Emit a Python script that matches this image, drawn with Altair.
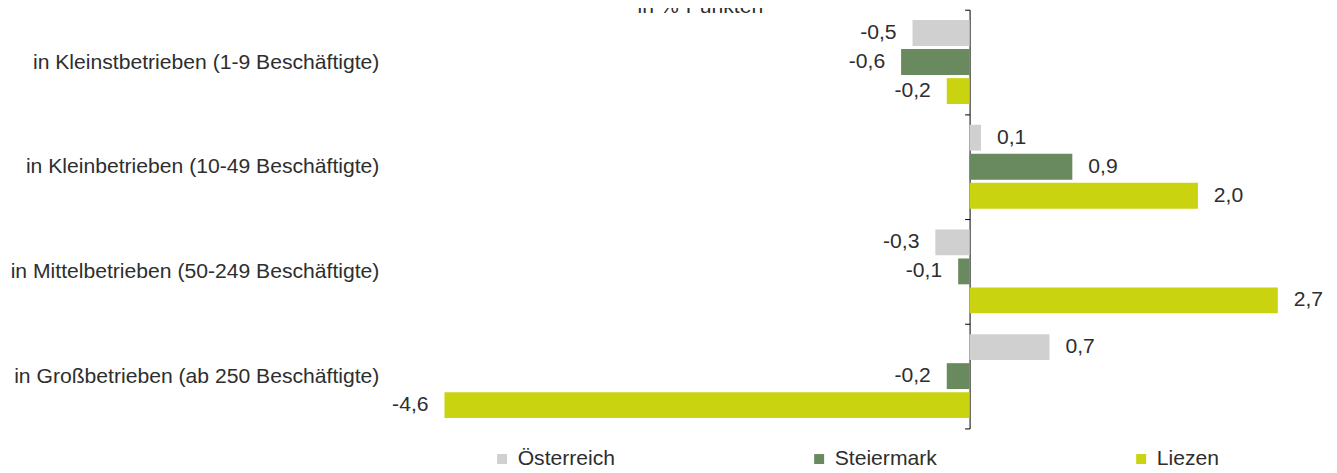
import altair as alt
import pandas as pd

categories = [
    "in Kleinstbetrieben (1-9 Beschäftigte)",
    "in Kleinbetrieben (10-49 Beschäftigte)",
    "in Mittelbetrieben (50-249 Beschäftigte)",
    "in Großbetrieben (ab 250 Beschäftigte)",
]
series = ["Österreich", "Steiermark", "Liezen"]
oesterreich = [-0.5, 0.1, -0.3, 0.7]
steiermark = [-0.6, 0.9, -0.1, -0.2]
liezen = [-0.2, 2.0, 2.7, -4.6]
colors = ["#d0d0d0", "#688a5e", "#c9d30f"]
axis_title = "in %-Punkten"

rows = []
for s, vals in zip(series, [oesterreich, steiermark, liezen]):
    for c, v in zip(categories, vals):
        rows.append({"cat": c, "series": s, "value": v,
                     "label": f"{v:.1f}".replace(".", ",")})
df = pd.DataFrame(rows)

FONT = "Liberation Sans"
FS = 21.2
TXT = "#2e2e2e"
W, H = 916, 420
X_DOMAIN = [-5, 3]
zero_px = W * (0 - X_DOMAIN[0]) / (X_DOMAIN[1] - X_DOMAIN[0])

y_axis = alt.Axis(
    orient="left", offset=-zero_px, domain=True, domainColor="#000000",
    ticks=True, tickBand="extent", tickSize=5, tickColor="#000000",
    labelPadding=zero_px + 17 - 5 + 3, labelFont=FONT, labelFontSize=FS,
    labelColor=TXT, labelLimit=600, grid=False, title=None,
)
y_enc = alt.Y("cat:N", sort=categories, title=None,
              scale=alt.Scale(paddingInner=0, paddingOuter=0), axis=y_axis)
yoff_enc = alt.YOffset("series:N", sort=series,
                       scale=alt.Scale(paddingInner=0.11, paddingOuter=0.358))
x_enc = alt.X("value:Q", axis=None,
              scale=alt.Scale(domain=X_DOMAIN, nice=False, zero=True))

base = alt.Chart(df)

bars = base.mark_bar().encode(
    x=x_enc, y=y_enc, yOffset=yoff_enc,
    color=alt.Color(
        "series:N", sort=series,
        scale=alt.Scale(domain=series, range=colors),
        legend=alt.Legend(
            orient="none", legendX=93, legendY=440, direction="horizontal",
            title=None, symbolType="square", symbolSize=100,
            symbolStrokeWidth=0, labelFont=FONT, labelFontSize=FS,
            labelColor=TXT, columnPadding=194, labelOffset=5, padding=0,
            gridAlign="each",
        ),
    ),
)

pos_text = base.transform_filter("datum.value >= 0").mark_text(
    align="left", baseline="middle", dx=16, font=FONT, fontSize=FS, color=TXT
).encode(x=x_enc, y=y_enc, yOffset=yoff_enc, text="label:N")

neg_text = base.transform_filter("datum.value < 0").mark_text(
    align="right", baseline="middle", dx=-16, font=FONT, fontSize=FS, color=TXT
).encode(x=x_enc, y=y_enc, yOffset=yoff_enc, text="label:N")

title_layer = alt.Chart(pd.DataFrame({"t": [axis_title]})).mark_text(
    align="center", baseline="alphabetic", font=FONT, fontSize=FS, color=TXT
).encode(x=alt.value(302.5), y=alt.value(3), text="t:N")

chart = alt.layer(bars, pos_text, neg_text, title_layer).properties(
    width=W, height=H,
    autosize=alt.AutoSizeParams(type="none"),
    padding={"left": 392, "top": 1, "right": 17, "bottom": 44},
).configure(font=FONT).configure_view(stroke=None)

chart.save("out.html", embed_options={"renderer": "svg", "actions": False})
